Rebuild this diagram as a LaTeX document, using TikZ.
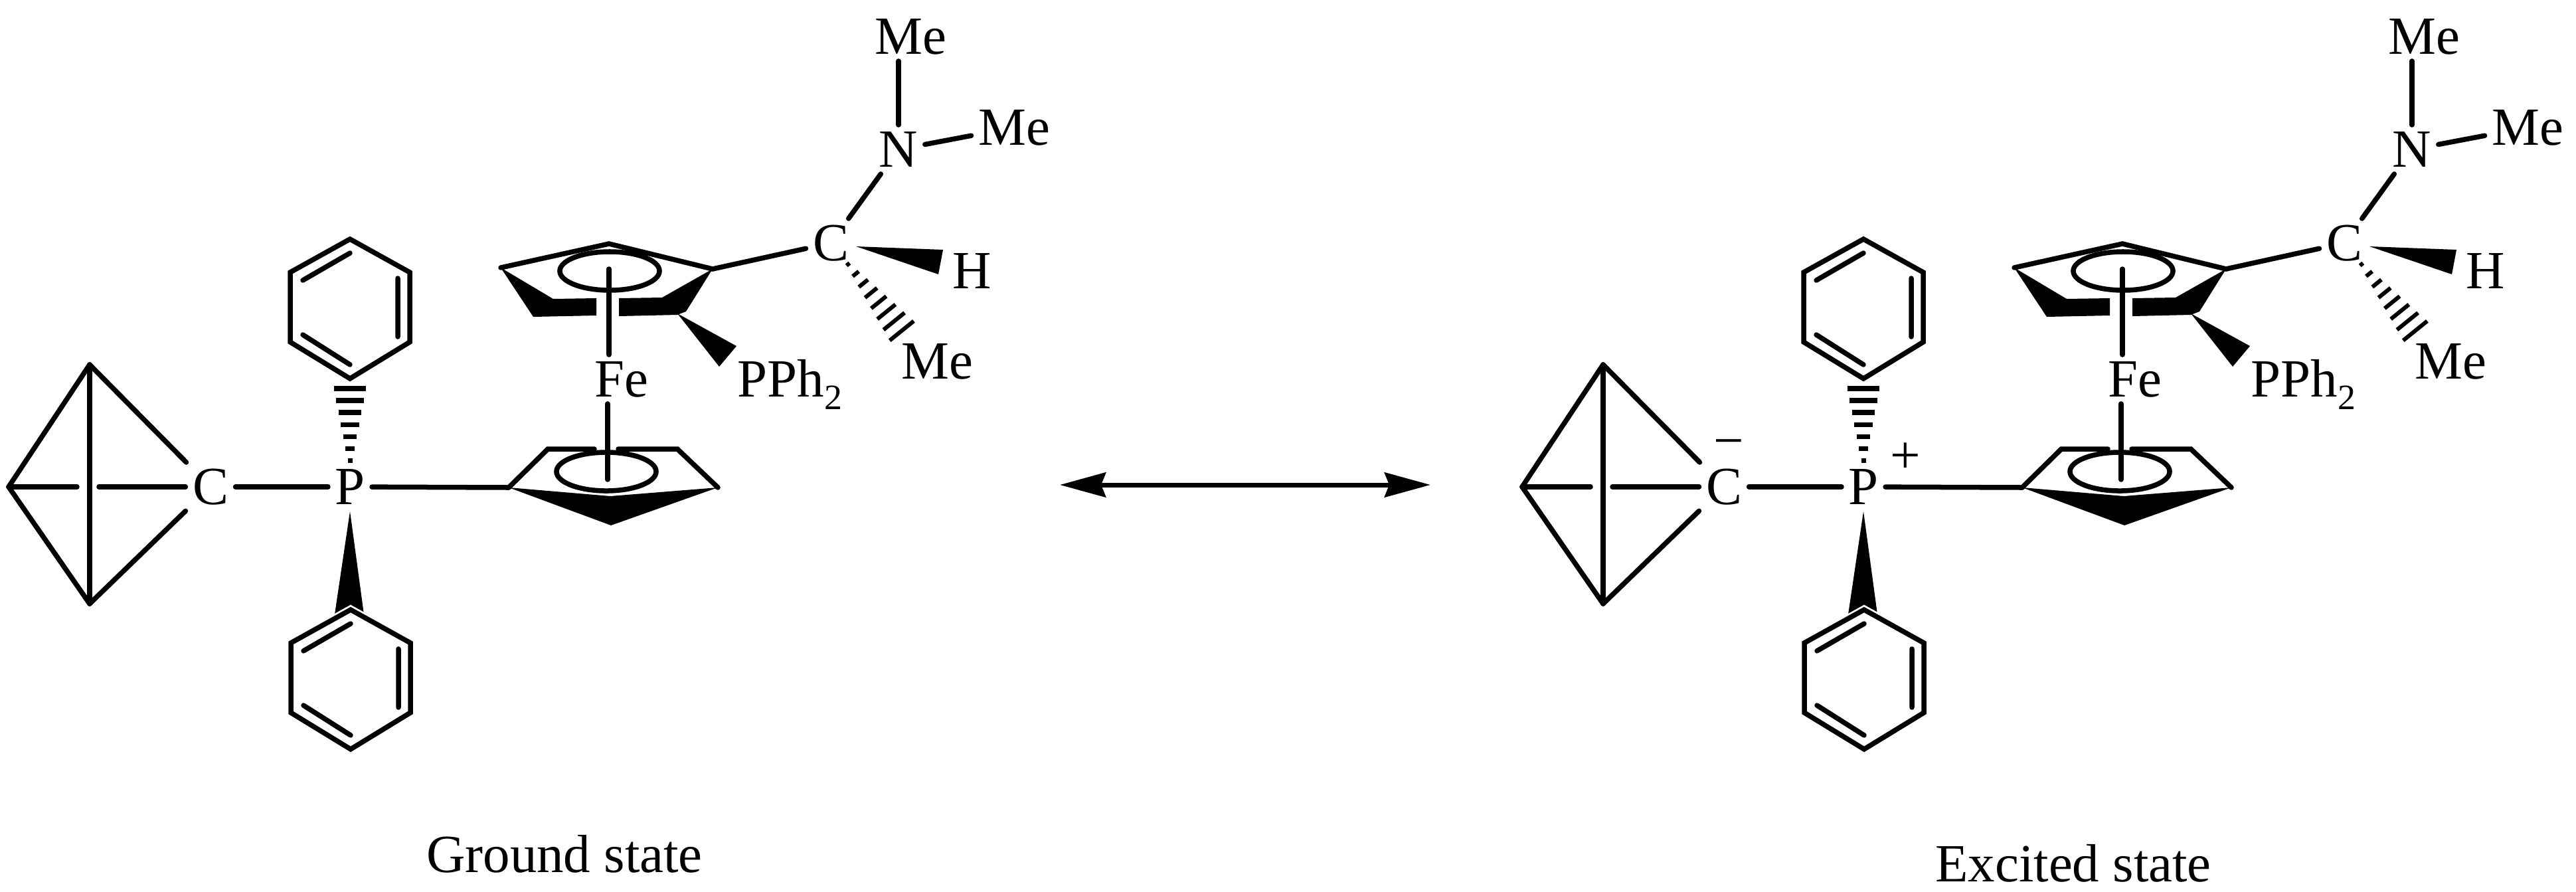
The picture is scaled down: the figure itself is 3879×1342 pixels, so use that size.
\documentclass[tikz,border=0pt]{standalone}
\usepackage{fontspec}
\setmainfont{Liberation Serif}
\usetikzlibrary{arrows.meta,calc}
\tikzset{
	bond/.style={line width=0.075cm,line cap=round},
	atom/.style={inner sep=2.8pt,text height=15pt,text depth=0pt,font=\fontsize{23}{27}\selectfont},
	caption/.style={inner sep=0pt,anchor=base,font=\fontsize{23}{27}\selectfont},
	wedgefill/.style={fill=black},
	phenyl/.pic={
		\draw[bond,line join=miter,preaction={draw,white,line width=0.13cm}]
		(0,0) -- (90,50) -- (90,155) -- (0,210) -- (-90,155) -- (-90,50) -- cycle;
		\draw[bond] (-71,62) -- (0,21) (72,59) -- (72,147) (-71,144) -- (0,189);
	},
	molecule/.pic={
		% atoms
		\node[atom] (C) at (317,733) {C};
		\node[atom] (P) at (527,733) {P};
		\node[atom] (Fe) at (936,571) {Fe};
		\node[atom] (Calpha) at (1251,366) {C};
		\node[atom] (N) at (1353,225) {N};
		\node[atom] (Meup) at (1371,55) {Me};
		\node[atom] (Meside) at (1527,192) {Me};
		\node[atom] (H) at (1464,408) {H};
		\node[atom] (Medown) at (1411,544) {Me};
		\node[atom,inner sep=0pt,anchor=base west] (PPh) at (1110,597) {PPh\raisebox{-5.4pt}{\fontsize{15.3}{17}\selectfont 2}};
		% cage
		\coordinate (top) at (135,549);
		\coordinate (bot) at (135,909);
		\coordinate (left) at (13,733);
		\coordinate (gapl) at (116,733);
		\coordinate (gapr) at (149,733);
		% lower ring
		\coordinate (la) at (766,734);
		\coordinate (lb) at (825,676);
		\coordinate (lc) at (895,676);
		\coordinate (ld) at (931,676);
		\coordinate (le) at (1020,676);
		\coordinate (lf) at (1081,734);
		\coordinate (laxis) at (915,722);
		% upper ring
		\coordinate (ua) at (754,403);
		\coordinate (ub) at (917,367);
		\coordinate (uc) at (1073,405);
		\coordinate (uaxis) at (917,405);
		% phenyl groups and their links
		\coordinate (phup) at (527,572);
		\coordinate (phlow) at (527,918);
		\fill[wedgefill] (P.south) -- (504,925) -- (548,925) -- cycle;
		\pic at (527,360) {phenyl};
		\pic at (528,918) {phenyl};
		\foreach \i in {0,...,6} {
			\pgfmathsetmacro\t{0.02+0.146*\i}
			\pgfmathsetmacro\w{(3.5+3.42*\i)*0.01}
			\draw[line width=0.075cm] ($(P.north)!\t!(phup)!\w cm!90:(phup)$) -- ($(P.north)!\t!(phup)!\w cm!-90:(phup)$);
		}
		% bonds
		\path[bond]
		(top) edge (bot)
		(top) edge (left)
		(bot) edge (left)
		(top) edge (C)
		(bot) edge (C)
		(left) edge (gapl)
		(gapr) edge (C)
		(C) edge (P)
		(P) edge (la)
		(uc) edge (Calpha)
		(Calpha) edge (N)
		(N) edge (Meside)
		(N.north) edge (N.north |- Meup.south)
		(uaxis) edge (uaxis |- Fe.north)
		(laxis) edge (laxis |- Fe.south);
		% lower ring of the iron sandwich
		\fill[wedgefill] (la) -- (919,747) -- (lf) -- (920,791) -- cycle;
		\draw[bond,line join=miter] (lc) -- (lb) -- (la);
		\draw[bond,line join=miter] (ld) -- (le) -- (lf);
		\draw[bond] (913,710) ellipse [x radius=0.75cm,y radius=0.29cm];
		% upper ring of the iron sandwich
		\draw[bond,line join=miter] (ua) -- (ub) -- (uc);
		\fill[wedgefill] (ua) -- (833,450) -- (898,449) -- (898,475) -- (803,477) -- cycle;
		\fill[wedgefill] (uc) -- (997,448) -- (932,449) -- (932,476) -- (1020,474) -- (1033,469) -- cycle;
		\draw[bond] (918,408) ellipse [x radius=0.75cm,y radius=0.29cm];
		% wedges
		\fill[wedgefill] (1020,472) -- (1109,521) -- (1083,552) -- cycle;
		\fill[wedgefill] (1289,371) -- (1420,376) -- (1413,413) -- cycle;
		% hashes to the methyl
		\coordinate (hs) at (1277,398);
		\coordinate (he) at (1378,523);
		\foreach \i in {0,...,7} {
			\pgfmathsetmacro\t{0.8*\i/7}
			\pgfmathsetmacro\w{(3+2.9*\i)*0.01}
			\draw[line width=0.06cm] ($(hs)!\t!(he)!\w cm!90:(he)$) -- ($(hs)!\t!(he)!\w cm!-90:(he)$);
		}
	}
}
\begin{document}
\begin{tikzpicture}[x=0.01cm,y=-0.01cm]
		\useasboundingbox (0,0) rectangle (3879,1342);
		\pic (g) at (0,0) {molecule};
		\pic (e) at (2279,0) {molecule};
		% charges
		\node[atom,text height=,inner sep=0pt] (minus) at (2603,676) {−};
		\node[atom,text height=,inner sep=0pt] (plus) at (2869,690) {+};
		% resonance arrow
		\coordinate (arrowl) at (1596,730);
		\coordinate (arrowr) at (2154,730);
		\draw[line width=0.07cm,{Stealth[length=0.69cm,width=0.37cm,inset=0.07cm]}-{Stealth[length=0.69cm,width=0.37cm,inset=0.07cm]}] (arrowl) -- (arrowr);
		% captions
		\node[caption] (ground) at (850,1313) {Ground state};
		\node[caption] (excited) at (3122,1327) {Excited state};
\end{tikzpicture}
\end{document}
